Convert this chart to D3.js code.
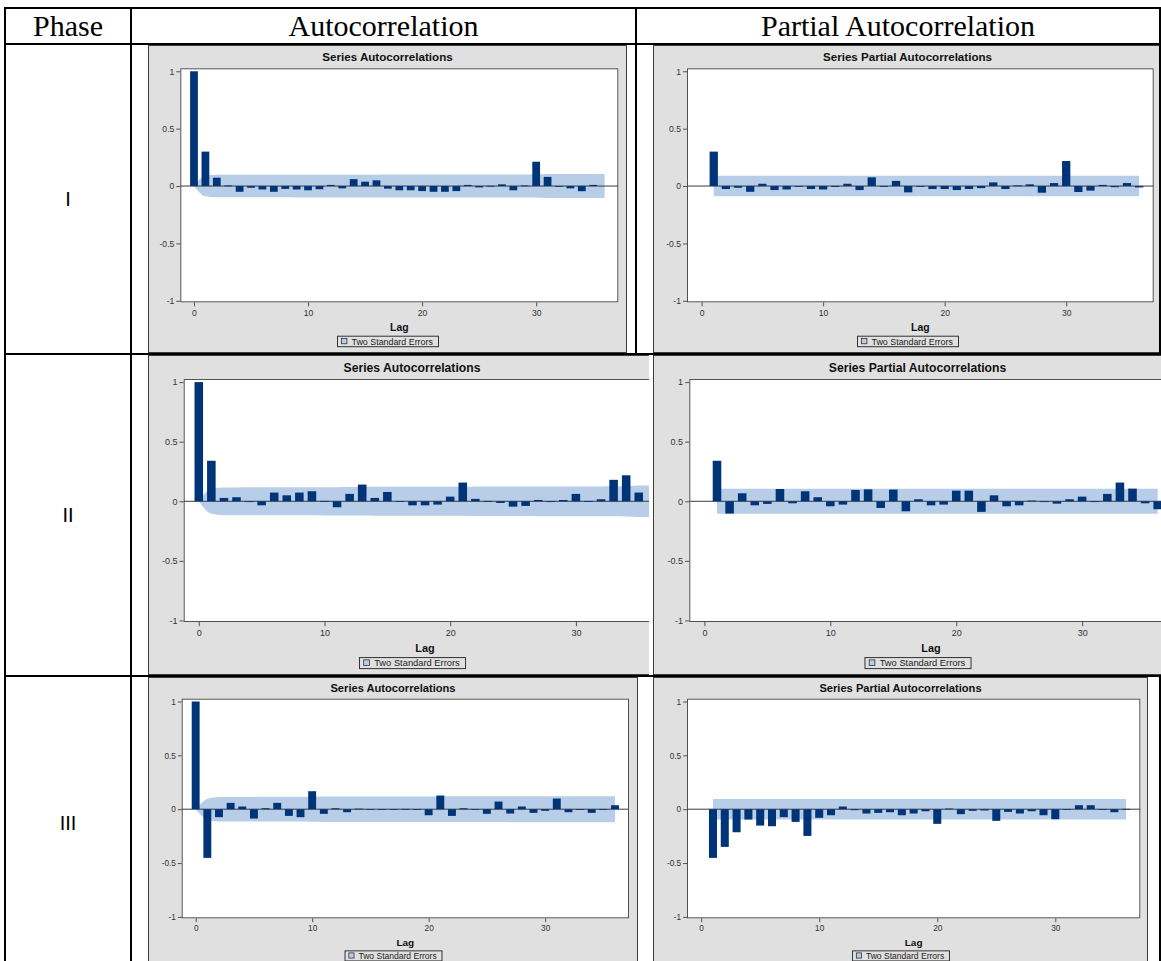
<!DOCTYPE html>
<html>
<head>
<meta charset="utf-8">
<script src="https://cdn.jsdelivr.net/npm/d3@7"></script>
<style>
  body { margin: 0; background: #ffffff; }
  svg { display: block; }
</style>
</head>
<body>
<svg id="chart" width="1161" height="961"></svg>
<script>
// ---- Table text ----
const columnHeads = ["Phase", "Autocorrelation", "Partial Autocorrelation"];
const phaseLabels = ["I", "II", "III"];
const acfTitle = "Series Autocorrelations";
const pacfTitle = "Series Partial Autocorrelations";
const xAxisLabel = "Lag";
const bandLabel = "Two Standard Errors";

// ---- Axis ticks ----
const xTickValues = [0, 10, 20, 30];
const yTickValues = [-1, -0.5, 0, 0.5, 1];

// ---- Number of observations per phase (sets the two-standard-error band) ----
const seriesLength = [494, 363, 440];

// ---- Autocorrelations, lag 0 upward ----
const acfPhase1 = [1.0, 0.30, 0.073, 0.005, -0.05, -0.015, -0.03, -0.05, -0.025, -0.03,
  -0.037, -0.028, 0.01, -0.02, 0.06, 0.038, 0.05, -0.023, -0.037, -0.037,
  -0.044, -0.05, -0.05, -0.044, 0.01, -0.012, 0.002, 0.015, -0.037, 0.005,
  0.212, 0.08, -0.003, -0.02, -0.045, 0.01];
const acfPhase2 = [1.0, 0.34, 0.028, 0.034, 0.0, -0.034, 0.073, 0.05, 0.073, 0.084,
  0.003, -0.05, 0.062, 0.14, 0.028, 0.078, 0.002, -0.034, -0.034, -0.028,
  0.039, 0.157, 0.02, 0.003, -0.014, -0.045, -0.039, 0.011, 0.0, 0.011,
  0.062, 0.002, 0.017, 0.18, 0.218, 0.073];
const acfPhase3 = [1.0, -0.452, -0.074, 0.059, 0.025, -0.087, 0.009, 0.059, -0.062, -0.074,
  0.167, -0.043, 0.009, -0.028, 0.005, -0.007, 0.0, 0.0, 0.003, 0.0,
  -0.056, 0.127, -0.062, 0.009, 0.0, -0.043, 0.071, -0.04, 0.025, -0.034,
  -0.015, 0.099, -0.028, 0.0, -0.034, 0.0, 0.037];

// ---- Partial autocorrelations, lag 1 upward ----
const pacfPhase1 = [0.30, -0.026, -0.015, -0.05, 0.02, -0.035, -0.03, 0.0, -0.026, -0.03,
  -0.008, 0.02, -0.035, 0.076, -0.005, 0.045, -0.055, -0.005, -0.026, -0.026,
  -0.035, -0.026, -0.018, 0.032, -0.026, 0.005, 0.015, -0.058, 0.026, 0.218,
  -0.052, -0.04, 0.01, -0.01, 0.026, -0.012];
const pacfPhase2 = [0.34, -0.103, 0.067, -0.034, -0.022, 0.103, -0.017, 0.084, 0.034, -0.042,
  -0.028, 0.095, 0.1, -0.056, 0.098, -0.084, 0.017, -0.034, -0.028, 0.089,
  0.089, -0.089, 0.05, -0.042, -0.034, 0.006, -0.006, -0.02, 0.017, 0.039,
  -0.006, 0.062, 0.157, 0.106, -0.017, -0.067];
const pacfPhase3 = [-0.452, -0.35, -0.214, -0.096, -0.152, -0.158, -0.074, -0.118, -0.248, -0.08,
  -0.056, 0.025, -0.009, -0.04, -0.034, -0.028, -0.056, -0.04, -0.019, -0.136,
  0.006, -0.046, -0.015, -0.012, -0.108, -0.025, -0.04, -0.019, -0.056, -0.093,
  0.0, 0.037, 0.037, -0.006, -0.028, 0.003];

const maxLag = 36;

// ---- Colours ----
const barColor = "#003478";
const bandColor = "#b8cee8";
const panelColor = "#e0e0e0";

// ---- Table geometry ----
const cols = [5, 131, 636, 1160];
const rowLines = [8, 44, 354, 676];
const tableBottom = 975;
const rowCenters = [199, 515, 823];

// ---- Correlogram panels ----
const panels = [
  { kind: "acf",  values: acfPhase1,  n: seriesLength[0], box: [148, 45, 627, 353],  clipRight: 627,  plot: [180.3, 68.3, 618.3, 302.3], k: 1.0 },
  { kind: "pacf", values: pacfPhase1, n: seriesLength[0], box: [653, 45, 1162, 353], clipRight: 1159, plot: [687, 68.3, 1153.7, 302.3],  k: 1.0 },
  { kind: "acf",  values: acfPhase2,  n: seriesLength[1], box: [148, 355, 676, 675], clipRight: 649,  plot: [183.7, 379, 666.4, 622],    k: 1.05 },
  { kind: "pacf", values: pacfPhase2, n: seriesLength[1], box: [653, 355, 1182, 675], clipRight: 1161, plot: [689.3, 379, 1172.8, 622],  k: 1.05 },
  { kind: "acf",  values: acfPhase3,  n: seriesLength[2], box: [148, 677, 638, 975], clipRight: 638,  plot: [181.7, 698.7, 629, 918.3],  k: 0.96 },
  { kind: "pacf", values: pacfPhase3, n: seriesLength[2], box: [653, 677, 1148, 975], clipRight: 1148, plot: [687, 698.7, 1140.3, 918.3], k: 0.96 }
];

const svg = d3.select("#chart");
const sans = "'Liberation Sans', Arial, sans-serif";
const serif = "'Liberation Serif', 'Times New Roman', serif";

// ---- Table rules ----
const rules = svg.append("g").attr("stroke", "#000").attr("stroke-width", 2);
rowLines.forEach(y => rules.append("line").attr("x1", cols[0] - 1).attr("x2", cols[3] + 1).attr("y1", y).attr("y2", y));
cols.forEach(x => rules.append("line").attr("x1", x).attr("x2", x).attr("y1", rowLines[0] - 1).attr("y2", tableBottom));

// ---- Header ----
columnHeads.forEach((h, i) => {
  svg.append("text")
    .attr("x", (cols[i] + cols[i + 1]) / 2)
    .attr("y", 35.5)
    .attr("text-anchor", "middle")
    .attr("font-family", serif)
    .attr("font-size", 30)
    .attr("fill", "#000")
    .text(h);
});

// ---- Phase labels ----
phaseLabels.forEach((p, i) => {
  svg.append("text")
    .attr("x", (cols[0] + cols[1]) / 2)
    .attr("y", rowCenters[i])
    .attr("dy", "0.36em")
    .attr("text-anchor", "middle")
    .attr("font-family", sans)
    .attr("font-size", 20)
    .attr("fill", "#000")
    .text(p);
});

// Two-standard-error half-width at each lag
function bandHalfWidth(p) {
  if (p.kind === "pacf") {
    const b = 2 / Math.sqrt(p.n);
    return d3.range(1, maxLag + 1).map(lag => ({ lag, b }));
  }
  // Bartlett's formula for the autocorrelation band
  let sumSq = 0;
  return d3.range(0, maxLag + 1).map(lag => {
    if (lag === 0) return { lag, b: 0 };
    if (lag >= 2) { const r = p.values[lag - 1] || 0; sumSq += r * r; }
    return { lag, b: 2 * Math.sqrt((1 + 2 * sumSq) / p.n) };
  });
}

panels.forEach((p, idx) => {
  const [bx0, by0, bx1, by1] = p.box;
  const [px0, py0, px1, py1] = p.plot;
  const k = p.k;

  const clipId = "clip" + idx;
  svg.append("clipPath").attr("id", clipId)
    .append("rect").attr("x", bx0).attr("y", by0)
    .attr("width", p.clipRight - bx0).attr("height", by1 - by0);

  const g = svg.append("g").attr("clip-path", `url(#${clipId})`);

  // panel background
  g.append("rect")
    .attr("x", bx0 + 0.5).attr("y", by0 + 0.5)
    .attr("width", bx1 - bx0 - 1).attr("height", by1 - by0 - 1)
    .attr("fill", panelColor).attr("stroke", "#3c3c3c").attr("stroke-width", 1);

  const x = d3.scaleLinear().domain([-1.2, 37.2]).range([px0, px1]);
  const y = d3.scaleLinear().domain([-1.013, 1.026]).range([py1, py0]);

  // plot area
  g.append("rect")
    .attr("x", px0).attr("y", py0)
    .attr("width", px1 - px0).attr("height", py1 - py0)
    .attr("fill", "#ffffff");

  // confidence band
  const band = bandHalfWidth(p);
  const area = d3.area()
    .x(d => x(d.lag))
    .y0(d => y(-d.b))
    .y1(d => y(d.b))
    .curve(d3.curveMonotoneX);
  g.append("path").datum(band).attr("d", area).attr("fill", bandColor);

  // zero reference line
  g.append("line")
    .attr("x1", px0).attr("x2", px1)
    .attr("y1", y(0)).attr("y2", y(0))
    .attr("stroke", "#3a3a3a").attr("stroke-width", 1);

  // bars
  const firstLag = p.kind === "acf" ? 0 : 1;
  const barW = (x(1) - x(0)) * 0.68;
  g.append("g").selectAll("rect")
    .data(p.values.map((v, i) => ({ lag: i + firstLag, v })))
    .join("rect")
    .attr("x", d => x(d.lag) - barW / 2)
    .attr("y", d => y(Math.max(0, d.v)))
    .attr("width", barW)
    .attr("height", d => Math.max(0.8, Math.abs(y(d.v) - y(0))))
    .attr("fill", barColor);

  // plot frame
  g.append("rect")
    .attr("x", px0 + 0.5).attr("y", py0 + 0.5)
    .attr("width", px1 - px0 - 1).attr("height", py1 - py0 - 1)
    .attr("fill", "none").attr("stroke", "#505050").attr("stroke-width", 1);

  // y axis
  const yAxis = g.append("g")
    .attr("transform", `translate(${px0},0)`)
    .call(d3.axisLeft(y).tickValues(yTickValues).tickSize(4 * k).tickPadding(2).tickFormat(d => String(d)));
  yAxis.select(".domain").remove();
  yAxis.selectAll("line").attr("stroke", "#505050");
  yAxis.selectAll("text").attr("font-family", sans).attr("font-size", 8.6 * k).attr("fill", "#333");

  // x axis
  const xAxis = g.append("g")
    .attr("transform", `translate(0,${py1})`)
    .call(d3.axisBottom(x).tickValues(xTickValues).tickSize(4 * k).tickFormat(d => String(d)));
  xAxis.select(".domain").remove();
  xAxis.selectAll("line").attr("stroke", "#505050");
  xAxis.selectAll("text")
    .attr("y", 10.4 * k).attr("dy", "0.35em")
    .attr("font-family", sans).attr("font-size", 8.6 * k).attr("fill", "#333");

  // panel title
  g.append("text")
    .attr("x", (bx0 + bx1) / 2).attr("y", by0 + 12 * k)
    .attr("dy", "0.35em")
    .attr("text-anchor", "middle")
    .attr("font-family", sans).attr("font-weight", "bold")
    .attr("font-size", 11.6 * k).attr("fill", "#111")
    .text(p.kind === "acf" ? acfTitle : pacfTitle);

  // axis title
  g.append("text")
    .attr("x", (px0 + px1) / 2).attr("y", py1 + 24.8 * k)
    .attr("dy", "0.35em")
    .attr("text-anchor", "middle")
    .attr("font-family", sans).attr("font-weight", "bold")
    .attr("font-size", 10.4 * k).attr("fill", "#111")
    .text(xAxisLabel);

  // legend
  const lw = 101 * k, lh = 10.5 * k;
  const lx = (bx0 + bx1) / 2 - lw / 2, ly = py1 + 33.4 * k;
  const leg = g.append("g");
  leg.append("rect").attr("x", lx + 0.5).attr("y", ly + 0.5).attr("width", lw).attr("height", lh)
    .attr("fill", panelColor).attr("stroke", "#333").attr("stroke-width", 1);
  leg.append("rect").attr("x", lx + 4.5 * k).attr("y", ly + lh / 2 - 2.6 * k)
    .attr("width", 5.4 * k).attr("height", 5.4 * k)
    .attr("fill", bandColor).attr("stroke", "#333").attr("stroke-width", 0.8);
  leg.append("text")
    .attr("x", lx + 14.5 * k).attr("y", ly + lh / 2 + 0.5)
    .attr("dy", "0.35em")
    .attr("font-family", sans).attr("font-size", 8.9 * k).attr("fill", "#222")
    .text(bandLabel);
});
</script>
</body>
</html>
